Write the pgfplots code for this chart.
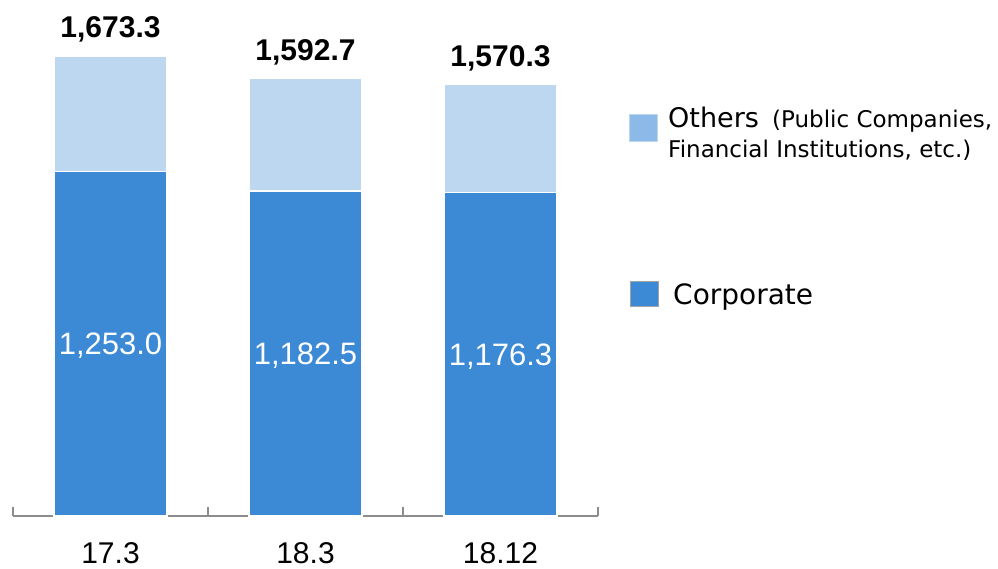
\documentclass[border=0pt]{standalone}
\usepackage{pgfplots}
\pgfplotsset{compat=1.18}
\usepackage{pgfplotstable}
\usepackage{fontspec}
\setmainfont{Liberation Sans}
\newfontfamily\legfont{DejaVu Sans}
\definecolor{corp}{RGB}{60,138,214}
\definecolor{oth}{RGB}{189,215,241}
\definecolor{othleg}{RGB}{141,185,232}
\definecolor{axgray}{RGB}{140,140,140}
\pgfplotstableread{
x corp others total
0 1253.0 420.3 1673.3
1 1182.5 410.2 1592.7
2 1176.3 394.0 1570.3
}\datatab
\pgfplotsset{common/.style={
  at={(13pt,52pt)}, anchor=south west,
  scale only axis, width=585pt, height=516pt,
  xmin=-0.5, xmax=2.5, ymin=0, ymax=1877,
  clip=false}}
\begin{document}
\begin{tikzpicture}
\useasboundingbox (0,0) rectangle (998pt,568pt);
\begin{axis}[common,
  axis x line*=bottom, axis y line=none,
  x axis line style={axgray, line width=1.5pt},
  xtick={0,1,2}, xticklabels={17.3,18.3,18.12},
  major tick length=0pt,
  minor xtick={-0.5,0.5,1.5,2.5},
  minor tick length=9pt, tick align=inside,
  minor tick style={axgray, line width=1.5pt},
  xticklabel style={font=\fontsize{30}{36}\selectfont, anchor=base, yshift=-47pt, inner sep=0pt},
  ybar stacked, bar width=113pt,
]
\addplot[fill=corp, draw=white, line width=1.5pt] table[x=x, y=corp] {\datatab};
\addplot[fill=oth, draw=white, line width=1.5pt] table[x=x, y=others] {\datatab};
\end{axis}
\begin{axis}[common, hide axis,
  /pgf/number format/.cd, fixed, fixed zerofill, precision=1, 1000 sep={,}, assume math mode=true,
  /pgfplots/.cd]
\addplot[draw=none, mark=none, point meta=explicit,
  nodes near coords,
  nodes near coords style={font=\fontsize{31}{36}\selectfont, text=white, anchor=base, inner sep=0pt, yshift=-11pt}]
  table[x=x, y expr=\thisrow{corp}/2, meta=corp] {\datatab};
\addplot[draw=none, mark=none, point meta=explicit,
  nodes near coords={\textbf{\pgfmathprintnumber{\pgfplotspointmeta}}},
  nodes near coords style={font=\fontsize{30}{36}\selectfont, text=black, anchor=base, inner sep=0pt, yshift=18pt}]
  table[x=x, y=total, meta=total] {\datatab};
\end{axis}
% legend
\fill[othleg, draw=oth, line width=1pt] (629pt,426pt) rectangle (657pt,453pt);
\node[anchor=base west, inner sep=0pt, font=\legfont\fontsize{27}{32}\selectfont] at (668pt,440pt) {Others};
\node[anchor=base west, inner sep=0pt, font=\legfont\fontsize{23}{28}\selectfont] at (772pt,440pt) {(Public Companies,};
\node[anchor=base west, inner sep=0pt, font=\legfont\fontsize{23}{28}\selectfont] at (668pt,410pt) {Financial Institutions, etc.)};
\fill[corp, draw=axgray!80, line width=1pt] (630pt,261pt) rectangle (658pt,286pt);
\node[anchor=base west, inner sep=0pt, font=\legfont\fontsize{28}{32}\selectfont] at (673pt,263pt) {Corporate};
\end{tikzpicture}
\end{document}
